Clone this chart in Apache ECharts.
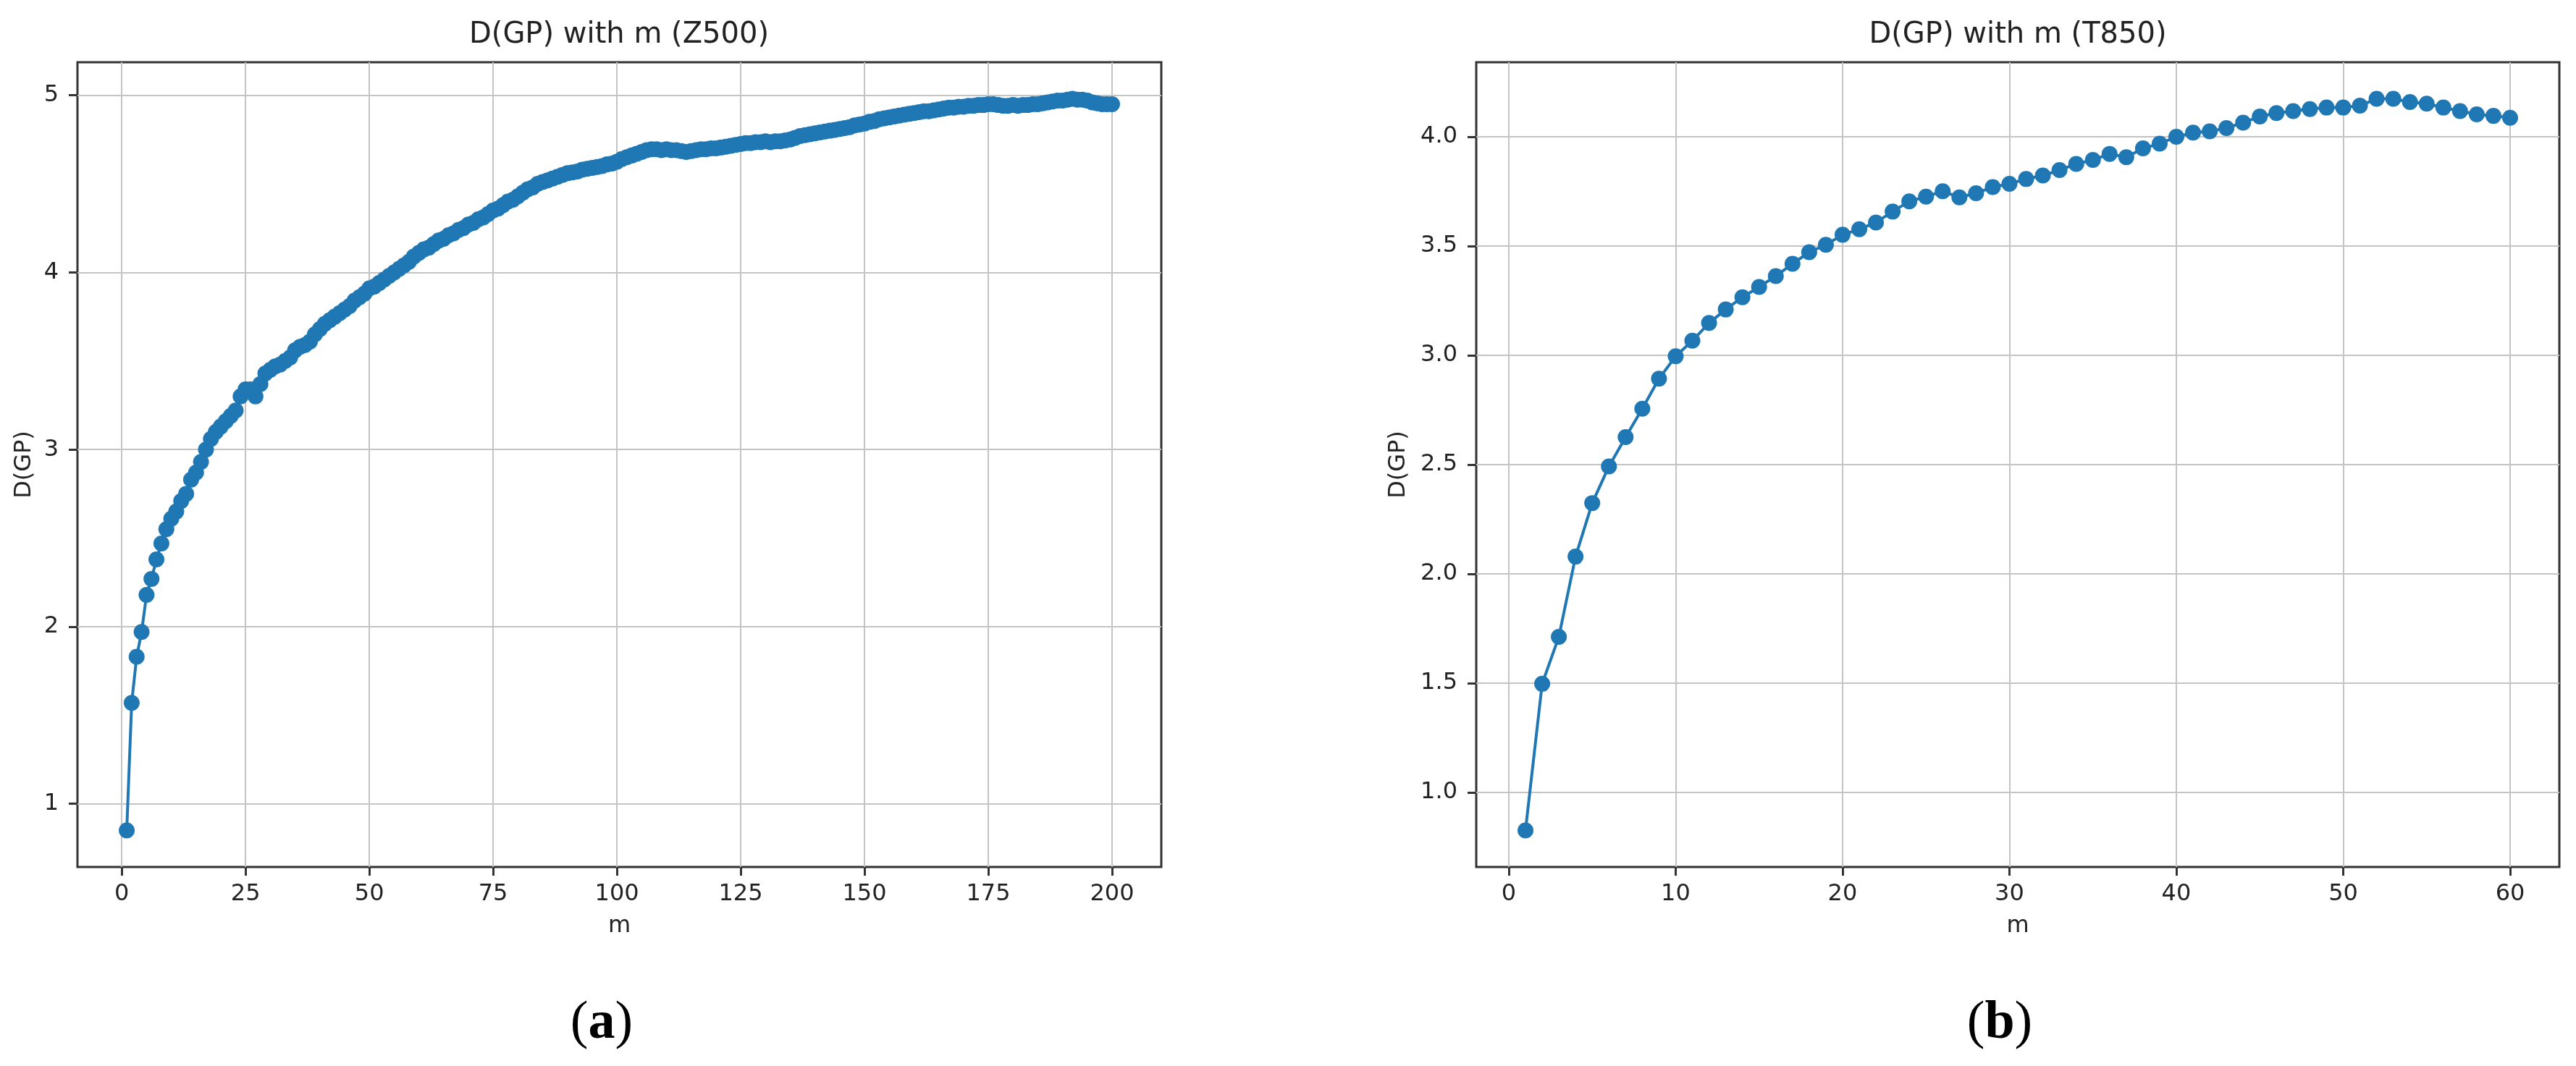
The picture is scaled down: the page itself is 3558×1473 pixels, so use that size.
<!DOCTYPE html>
<html>
<head>
<meta charset="utf-8">
<script src="https://cdn.jsdelivr.net/npm/echarts@6/dist/echarts.min.js"></script>
<style>
  html, body { margin: 0; padding: 0; background: #fff; }
  #chart { width: 3558px; height: 1473px; }
</style>
</head>
<body>
<div id="chart"></div>
<script>
// D(GP) vs m
const z500Values = [
  0.85, 1.57, 1.83, 1.97, 2.18, 2.27, 2.38, 2.47, 2.55, 2.61,
  2.65, 2.71, 2.75, 2.83, 2.87, 2.93, 3.00, 3.06, 3.10, 3.13,
  3.16, 3.19, 3.22, 3.30, 3.34, 3.34, 3.30, 3.37, 3.43, 3.45,
  3.47, 3.48, 3.50, 3.52, 3.56, 3.58, 3.59, 3.61, 3.65, 3.68,
  3.71, 3.73, 3.75, 3.77, 3.79, 3.81, 3.84, 3.86, 3.88, 3.91,
  3.92, 3.94, 3.96, 3.98, 4.00, 4.02, 4.04, 4.06, 4.09, 4.11,
  4.13, 4.14, 4.16, 4.18, 4.19, 4.21, 4.22, 4.24, 4.25, 4.27,
  4.28, 4.30, 4.31, 4.33, 4.35, 4.36, 4.38, 4.40, 4.41, 4.43,
  4.45, 4.47, 4.48, 4.50, 4.51, 4.52, 4.53, 4.54, 4.55, 4.56,
  4.565, 4.57, 4.58, 4.585, 4.59, 4.595, 4.60, 4.61, 4.615, 4.625,
  4.64, 4.65, 4.66, 4.67, 4.68, 4.69, 4.695, 4.695, 4.69, 4.695,
  4.69, 4.69, 4.685, 4.68, 4.685, 4.69, 4.695, 4.695, 4.70, 4.70,
  4.705, 4.71, 4.715, 4.72, 4.725, 4.73, 4.73, 4.735, 4.735, 4.74,
  4.735, 4.74, 4.74, 4.745, 4.75, 4.76, 4.77, 4.775, 4.78, 4.785,
  4.79, 4.795, 4.80, 4.805, 4.81, 4.815, 4.82, 4.83, 4.835, 4.84,
  4.85, 4.855, 4.865, 4.87, 4.875, 4.88, 4.885, 4.89, 4.895, 4.90,
  4.905, 4.91, 4.91, 4.915, 4.92, 4.925, 4.93, 4.93, 4.935, 4.935,
  4.94, 4.94, 4.945, 4.945, 4.95, 4.95, 4.945, 4.94, 4.94, 4.945,
  4.94, 4.945, 4.945, 4.95, 4.95, 4.955, 4.96, 4.965, 4.97, 4.97,
  4.975, 4.98, 4.975, 4.975, 4.97, 4.96, 4.955, 4.95, 4.95, 4.95
];
const t850Values = [
  0.826, 1.497, 1.712, 2.079, 2.324, 2.492, 2.626, 2.756, 2.893, 2.996,
  3.067, 3.148, 3.210, 3.266, 3.313, 3.363, 3.419, 3.472, 3.506, 3.552,
  3.577, 3.608, 3.658, 3.705, 3.726, 3.751, 3.723, 3.742, 3.770, 3.785,
  3.807, 3.823, 3.848, 3.876, 3.894, 3.922, 3.907, 3.947, 3.969, 4.000,
  4.019, 4.025, 4.040, 4.065, 4.093, 4.109, 4.118, 4.127, 4.134, 4.134,
  4.143, 4.174, 4.174, 4.159, 4.152, 4.134, 4.118, 4.103, 4.096, 4.087
];
const z500Ticks = [0, 25, 50, 75, 100, 125, 150, 175, 200];
const t850Ticks = [0, 10, 20, 30, 40, 50, 60];
const z500YTicks = [1, 2, 3, 4, 5];
const t850YTicks = [1.0, 1.5, 2.0, 2.5, 3.0, 3.5, 4.0];

const titles = ['D(GP) with m (Z500)', 'D(GP) with m (T850)'];
const captions = ['a', 'b'];

const blue = '#1f77b4';
const ink = '#222';
const font = 'DejaVu Sans';

function toPairs(vals) {
  return vals.map((v, i) => [i + 1, v]);
}

// matplotlib-style 5% margins
function padded(lo, hi) {
  const d = (hi - lo) * 0.05;
  return [lo - d, hi + d];
}

const xExtZ = padded(1, z500Values.length);
const xExtT = padded(1, t850Values.length);
const yExtZ = padded(Math.min(...z500Values), Math.max(...z500Values));
const yExtT = padded(Math.min(...t850Values), Math.max(...t850Values));

function xAxisCfg(gridIndex, ext, ticks) {
  return {
    type: 'value', gridIndex, min: ext[0], max: ext[1],
    name: 'm', nameLocation: 'middle', nameGap: 82,
    nameTextStyle: { fontFamily: font, fontSize: 32, color: ink, verticalAlign: 'middle' },
    axisLine: { show: false, onZero: false },
    axisTick: { show: true, length: 12, customValues: ticks, lineStyle: { color: '#333', width: 3 } },
    axisLabel: { customValues: ticks, margin: 38, verticalAlign: 'middle', fontFamily: font, fontSize: 32, color: ink },
    splitLine: { show: true, lineStyle: { color: '#c4c4c4', width: 2 } }
  };
}

function yAxisCfg(gridIndex, ext, ticks, gap, fmt) {
  return {
    type: 'value', gridIndex, min: ext[0], max: ext[1],
    name: 'D(GP)', nameLocation: 'middle', nameGap: gap, nameRotate: 90,
    nameTextStyle: { fontFamily: font, fontSize: 32, color: ink, verticalAlign: 'middle' },
    axisLine: { show: false, onZero: false },
    axisTick: { show: true, length: 12, customValues: ticks, lineStyle: { color: '#333', width: 3 } },
    axisLabel: { customValues: ticks, margin: 26, fontFamily: font, fontSize: 32, color: ink, formatter: fmt },
    splitLine: { show: true, lineStyle: { color: '#c4c4c4', width: 2 } }
  };
}

function lineSeries(idx, vals) {
  return {
    type: 'line', xAxisIndex: idx, yAxisIndex: idx,
    data: toPairs(vals),
    symbol: 'circle', symbolSize: 22, showAllSymbol: true,
    lineStyle: { color: blue, width: 4 },
    itemStyle: { color: blue },
    emphasis: { disabled: true },
    silent: true
  };
}

const chart = echarts.init(document.getElementById('chart'));
const option = {
  animation: false,
  backgroundColor: '#fff',
  grid: [
    { left: 107, top: 86, width: 1497, height: 1112, show: true, borderColor: '#333', borderWidth: 3, backgroundColor: 'transparent' },
    { left: 2039, top: 86, width: 1496, height: 1112, show: true, borderColor: '#333', borderWidth: 3, backgroundColor: 'transparent' }
  ],
  xAxis: [
    xAxisCfg(0, xExtZ, z500Ticks),
    xAxisCfg(1, xExtT, t850Ticks)
  ],
  yAxis: [
    yAxisCfg(0, yExtZ, z500YTicks, 73, (v) => String(Math.round(v))),
    yAxisCfg(1, yExtT, t850YTicks, 107, (v) => v.toFixed(1))
  ],
  series: [
    lineSeries(0, z500Values),
    lineSeries(1, t850Values)
  ],
  graphic: [
    { type: 'text', x: 855, y: 49, style: { text: titles[0], fontFamily: font, fontSize: 40, fill: ink, align: 'center', verticalAlign: 'middle' } },
    { type: 'text', x: 2787, y: 49, style: { text: titles[1], fontFamily: font, fontSize: 40, fill: ink, align: 'center', verticalAlign: 'middle' } },
    {
      type: 'text', x: 831, y: 1415,
      style: {
        text: '{p|(}{b|' + captions[0] + '}{p|)}', align: 'center', verticalAlign: 'middle',
        rich: {
          p: { fontFamily: 'Liberation Serif', fontSize: 74, fill: '#000' },
          b: { fontFamily: 'Liberation Serif', fontSize: 74, fontWeight: 'bold', fill: '#000' }
        }
      }
    },
    {
      type: 'text', x: 2762, y: 1415,
      style: {
        text: '{p|(}{b|' + captions[1] + '}{p|)}', align: 'center', verticalAlign: 'middle',
        rich: {
          p: { fontFamily: 'Liberation Serif', fontSize: 74, fill: '#000' },
          b: { fontFamily: 'Liberation Serif', fontSize: 74, fontWeight: 'bold', fill: '#000' }
        }
      }
    }
  ]
};
chart.setOption(option);
</script>
</body>
</html>
